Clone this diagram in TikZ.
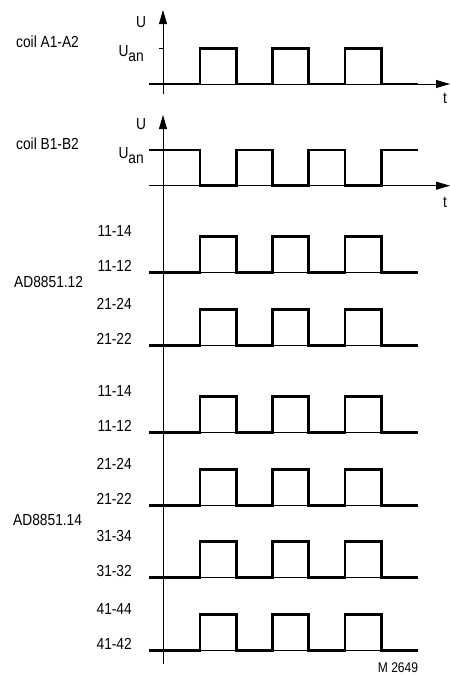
\documentclass[tikz,border=0pt]{standalone}
\usepackage{fontspec}
\setmainfont{Liberation Sans}[FakeStretch=0.86]
\usetikzlibrary{arrows.meta, positioning}
\tikzset{
  lbl/.style = {inner sep=0pt, font=\fontsize{16}{16}\selectfont},
  contact/.style = {lbl, anchor=east},
  sig/.style = {line width=2.6pt, line join=miter},
  axis/.style = {line width=0.9pt}
}

\begin{document}
\begin{tikzpicture}[x=1pt, y=-1pt, >={Triangle[length=14pt,width=8pt]}]
\useasboundingbox (0,0) rectangle (450,675);
% coil A1-A2
\coordinate (ua0) at (163,94);
\coordinate (ua1) at (163,10);
\coordinate (ta0) at (149,84);
\coordinate (ta1) at (450,84);
\draw[axis,->] (ua0) -- (ua1);
\draw[axis,->] (ta0) -- (ta1);
\draw[axis] (159,48.5) -- (163,48.5);
\draw[sig] (ta0) \foreach \s in {200,272.5,345} {-- (\s,84) -- (\s,48.5) -- (\s+36.25,48.5) -- (\s+36.25,84)} -- (417.5,84);
\node[lbl, anchor=west] (coilA) at (16,42) {coil A1-A2};
\node[lbl] (uA) at (141,22) {U};
\node[lbl, anchor=base east] (uanA) at (144,56) {U\raisebox{-5pt}{an}};
\node[lbl] (tA) at (445,98) {t};
% coil B1-B2
\coordinate (ub0) at (163,664);
\coordinate (ub1) at (163,115);
\coordinate (tb0) at (149,185.7);
\coordinate (tb1) at (450,185.7);
\draw[axis,->] (ub0) -- (ub1);
\draw[axis,->] (tb0) -- (tb1);
\draw[sig] (149,150) \foreach \s in {200,272.5,345} {-- (\s,150) -- (\s,185.7) -- (\s+36.25,185.7) -- (\s+36.25,150)} -- (417.5,150);
\node[lbl, anchor=west] (coilB) at (16,144) {coil B1-B2};
\node[lbl] (uB) at (141,124) {U};
\node[lbl, anchor=base east] (uanB) at (144,158) {U\raisebox{-5pt}{an}};
\node[lbl] (tB) at (445,202) {t};
% contacts
\foreach \y/\nolbl/\nclbl [count=\i] in {272.7/11-14/11-12, 345.7/21-24/21-22, 432.7/11-14/11-12,
    505.7/21-24/21-22, 577.7/31-34/31-32, 650.7/41-44/41-42} {
  \draw[axis] (149,\y) -- (417.5,\y);
  \draw[sig] (149,\y) \foreach \s in {200,272.5,345} {-- (\s,\y) -- (\s,\y-36) -- (\s+36.25,\y-36) -- (\s+36.25,\y)} -- (417.5,\y);
  \node[contact] (no\i) at (132,\y-42) {\nolbl};
  \node[contact] (nc\i) at (132,\y-6.5) {\nclbl};
}
\node[lbl, anchor=west] (ad12) at (14,281.7) {AD8851.12};
\node[lbl, anchor=west] (ad14) at (13,520) {AD8851.14};
\node[lbl, font=\fontsize{14}{14}\selectfont] (mno) at (398,668) {M 2649};
\end{tikzpicture}
\end{document}
